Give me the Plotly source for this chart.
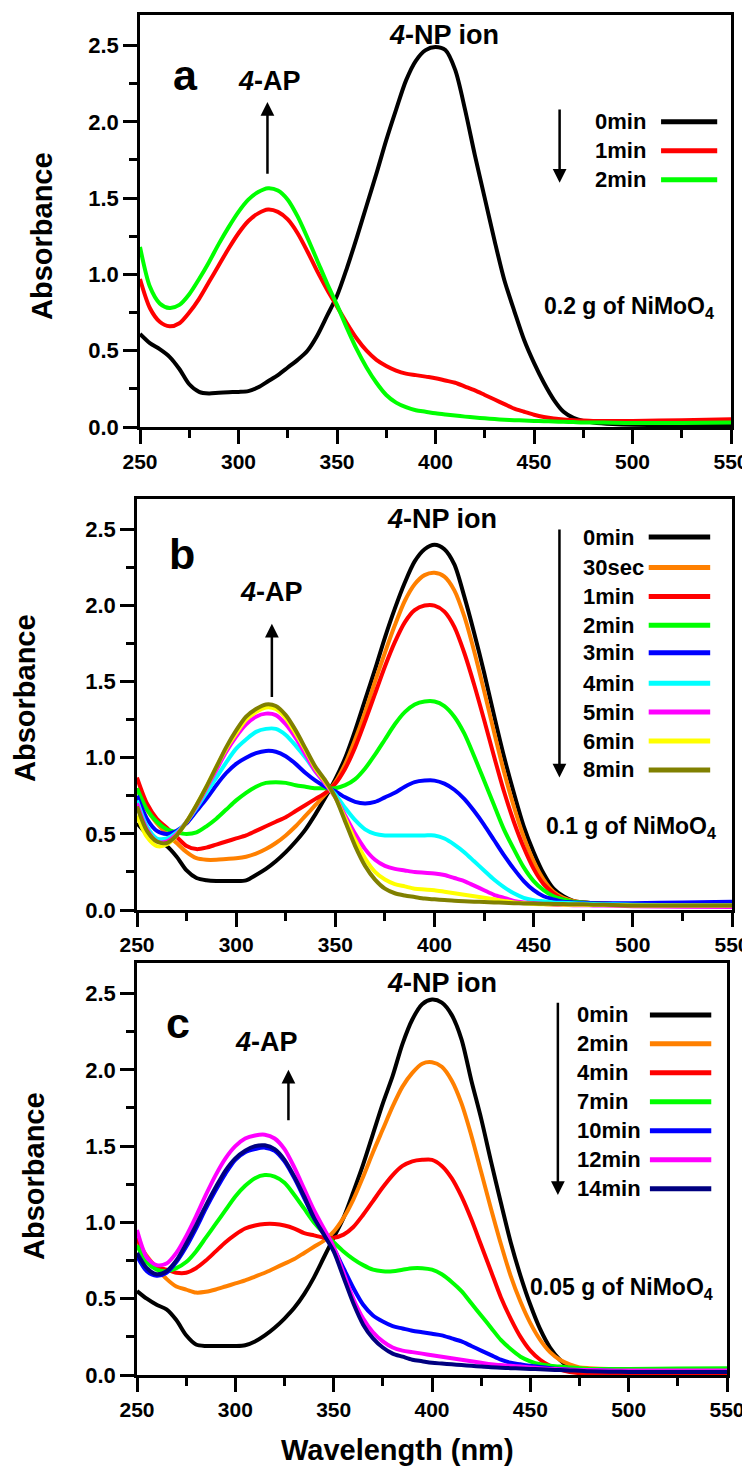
import plotly.graph_objects as go

# ---------------- shared wavelength grid (nm) ----------------
WL = [250, 255, 260, 265, 270, 275, 280, 285, 290, 295, 300, 305, 310, 315, 320, 325, 330, 335, 340, 345,
      350, 355, 360, 365, 370, 375, 380, 385, 390, 395, 400, 405, 410, 415, 420, 425, 430, 435, 440, 445,
      450, 455, 460, 465, 470, 475, 480, 490, 500, 525, 550]

# ---------------- panel a : 0.2 g of NiMoO4 ----------------
a_labels = ["0min", "1min", "2min"]
a_0min = [0.61, 0.55, 0.51, 0.46, 0.38, 0.28, 0.23, 0.22, 0.225, 0.228, 0.23, 0.235, 0.26, 0.30, 0.34, 0.39, 0.44, 0.50, 0.60, 0.73,
          0.86, 1.04, 1.24, 1.45, 1.66, 1.88, 2.08, 2.27, 2.40, 2.47, 2.49, 2.47, 2.34, 2.08, 1.78, 1.50, 1.22, 0.96, 0.76, 0.57,
          0.42, 0.29, 0.18, 0.10, 0.06, 0.04, 0.03, 0.02, 0.015, 0.01, 0.01]
a_1min = [0.97, 0.78, 0.69, 0.66, 0.68, 0.75, 0.84, 0.95, 1.06, 1.17, 1.27, 1.35, 1.40, 1.425, 1.41, 1.36, 1.27, 1.15, 1.02, 0.90,
          0.79, 0.68, 0.58, 0.50, 0.44, 0.40, 0.37, 0.35, 0.34, 0.33, 0.32, 0.305, 0.29, 0.265, 0.24, 0.21, 0.18, 0.15, 0.12, 0.10,
          0.08, 0.065, 0.055, 0.05, 0.045, 0.042, 0.04, 0.04, 0.04, 0.045, 0.05]
a_2min = [1.18, 0.92, 0.81, 0.78, 0.80, 0.87, 0.97, 1.08, 1.20, 1.31, 1.41, 1.49, 1.54, 1.565, 1.55, 1.49, 1.38, 1.24, 1.09, 0.94,
          0.80, 0.65, 0.51, 0.39, 0.29, 0.21, 0.16, 0.13, 0.11, 0.10, 0.09, 0.082, 0.075, 0.068, 0.062, 0.057, 0.052, 0.048, 0.045, 0.042,
          0.04, 0.038, 0.036, 0.034, 0.032, 0.03, 0.03, 0.028, 0.026, 0.027, 0.03]

# ---------------- panel b : 0.1 g of NiMoO4 ----------------
b_labels = ["0min", "30sec", "1min", "2min", "3min", "4min", "5min", "6min", "8min"]
b_0min = [0.57, 0.50, 0.46, 0.42, 0.35, 0.26, 0.21, 0.195, 0.19, 0.19, 0.19, 0.195, 0.23, 0.27, 0.32, 0.38, 0.45, 0.53, 0.63, 0.74,
          0.86, 1.00, 1.18, 1.38, 1.58, 1.79, 1.98, 2.15, 2.29, 2.37, 2.40, 2.37, 2.27, 2.06, 1.82, 1.56, 1.28, 1.01, 0.77, 0.55,
          0.38, 0.24, 0.14, 0.09, 0.06, 0.05, 0.045, 0.04, 0.035, 0.03, 0.03]
b_30sec = [0.80, 0.66, 0.57, 0.50, 0.44, 0.38, 0.34, 0.33, 0.33, 0.335, 0.34, 0.35, 0.37, 0.40, 0.44, 0.49, 0.55, 0.62, 0.69, 0.76,
           0.84, 0.96, 1.12, 1.30, 1.50, 1.69, 1.87, 2.03, 2.14, 2.20, 2.215, 2.19, 2.10, 1.93, 1.70, 1.44, 1.17, 0.91, 0.68, 0.48,
           0.32, 0.20, 0.12, 0.08, 0.06, 0.05, 0.045, 0.04, 0.04, 0.04, 0.04]
b_1min = [0.87, 0.70, 0.60, 0.54, 0.48, 0.42, 0.40, 0.41, 0.43, 0.45, 0.47, 0.49, 0.52, 0.55, 0.58, 0.61, 0.65, 0.69, 0.73, 0.77,
          0.83, 0.93, 1.07, 1.24, 1.42, 1.60, 1.76, 1.89, 1.97, 2.00, 2.00, 1.96, 1.86, 1.69, 1.48, 1.25, 1.01, 0.78, 0.58, 0.41,
          0.27, 0.17, 0.11, 0.07, 0.055, 0.05, 0.045, 0.04, 0.04, 0.045, 0.05]
b_2min = [0.80, 0.66, 0.58, 0.53, 0.51, 0.50, 0.51, 0.55, 0.60, 0.66, 0.72, 0.77, 0.81, 0.835, 0.84, 0.835, 0.82, 0.81, 0.80, 0.80,
          0.80, 0.82, 0.86, 0.93, 1.02, 1.12, 1.22, 1.30, 1.35, 1.37, 1.37, 1.34, 1.27, 1.16, 1.01, 0.85, 0.69, 0.53, 0.40, 0.28,
          0.19, 0.13, 0.09, 0.07, 0.055, 0.05, 0.045, 0.04, 0.04, 0.04, 0.04]
b_3min = [0.75, 0.60, 0.52, 0.50, 0.52, 0.57, 0.65, 0.73, 0.82, 0.90, 0.96, 1.00, 1.03, 1.045, 1.04, 1.01, 0.96, 0.90, 0.85, 0.81,
          0.78, 0.74, 0.71, 0.70, 0.71, 0.74, 0.77, 0.81, 0.84, 0.85, 0.85, 0.83, 0.79, 0.73, 0.65, 0.56, 0.46, 0.36, 0.27, 0.19,
          0.13, 0.09, 0.07, 0.055, 0.05, 0.047, 0.045, 0.045, 0.045, 0.05, 0.055]
b_4min = [0.72, 0.55, 0.47, 0.47, 0.51, 0.58, 0.67, 0.77, 0.87, 0.97, 1.06, 1.12, 1.17, 1.19, 1.19, 1.15, 1.08, 1.00, 0.91, 0.83,
          0.76, 0.67, 0.59, 0.53, 0.50, 0.49, 0.49, 0.49, 0.49, 0.49, 0.49, 0.47, 0.43, 0.38, 0.32, 0.26, 0.20, 0.15, 0.11, 0.08,
          0.065, 0.057, 0.05, 0.047, 0.044, 0.042, 0.04, 0.037, 0.035, 0.032, 0.03]
b_5min = [0.70, 0.53, 0.45, 0.45, 0.50, 0.58, 0.68, 0.80, 0.92, 1.04, 1.14, 1.22, 1.27, 1.29, 1.28, 1.22, 1.13, 1.02, 0.91, 0.83,
          0.74, 0.62, 0.50, 0.40, 0.33, 0.29, 0.27, 0.26, 0.25, 0.245, 0.24, 0.23, 0.21, 0.19, 0.16, 0.13, 0.10, 0.08, 0.06, 0.05,
          0.045, 0.04, 0.035, 0.033, 0.032, 0.031, 0.03, 0.028, 0.025, 0.022, 0.02]
b_6min = [0.62, 0.48, 0.42, 0.43, 0.49, 0.58, 0.69, 0.81, 0.94, 1.06, 1.16, 1.25, 1.30, 1.33, 1.32, 1.26, 1.16, 1.05, 0.93, 0.84,
          0.74, 0.60, 0.46, 0.34, 0.25, 0.20, 0.17, 0.155, 0.14, 0.135, 0.13, 0.12, 0.11, 0.10, 0.09, 0.08, 0.07, 0.06, 0.05, 0.045,
          0.04, 0.038, 0.036, 0.035, 0.035, 0.034, 0.033, 0.032, 0.03, 0.03, 0.03]
b_8min = [0.68, 0.52, 0.45, 0.44, 0.49, 0.58, 0.69, 0.81, 0.94, 1.07, 1.18, 1.27, 1.32, 1.35, 1.34, 1.28, 1.18, 1.06, 0.94, 0.85,
          0.74, 0.58, 0.42, 0.29, 0.20, 0.14, 0.11, 0.095, 0.085, 0.075, 0.07, 0.065, 0.06, 0.057, 0.055, 0.052, 0.05, 0.048, 0.045, 0.043,
          0.042, 0.041, 0.04, 0.039, 0.038, 0.037, 0.035, 0.033, 0.03, 0.03, 0.03]

# ---------------- panel c : 0.05 g of NiMoO4 ----------------
c_labels = ["0min", "2min", "4min", "7min", "10min", "12min", "14min"]
c_0min = [0.55, 0.50, 0.46, 0.43, 0.36, 0.26, 0.20, 0.19, 0.19, 0.19, 0.19, 0.195, 0.22, 0.26, 0.31, 0.37, 0.44, 0.53, 0.64, 0.77,
          0.90, 1.03, 1.20, 1.38, 1.58, 1.78, 1.96, 2.17, 2.33, 2.43, 2.46, 2.44, 2.36, 2.20, 1.93, 1.68, 1.40, 1.13, 0.87, 0.65,
          0.46, 0.30, 0.18, 0.10, 0.05, 0.03, 0.02, 0.015, 0.01, 0.01, 0.01]
c_2min = [0.88, 0.78, 0.70, 0.63, 0.58, 0.56, 0.54, 0.545, 0.56, 0.58, 0.60, 0.62, 0.645, 0.67, 0.70, 0.73, 0.76, 0.80, 0.84, 0.88,
          0.94, 1.03, 1.15, 1.30, 1.46, 1.61, 1.76, 1.89, 1.98, 2.04, 2.05, 2.02, 1.93, 1.78, 1.57, 1.33, 1.09, 0.86, 0.65, 0.48,
          0.34, 0.23, 0.15, 0.10, 0.07, 0.05, 0.045, 0.04, 0.04, 0.04, 0.04]
c_4min = [0.90, 0.77, 0.71, 0.69, 0.67, 0.67, 0.70, 0.75, 0.81, 0.87, 0.92, 0.96, 0.98, 0.99, 0.99, 0.98, 0.96, 0.93, 0.915, 0.90,
          0.90, 0.92, 0.97, 1.05, 1.14, 1.23, 1.31, 1.37, 1.40, 1.41, 1.41, 1.37, 1.29, 1.17, 1.02, 0.85, 0.68, 0.51, 0.37, 0.25,
          0.16, 0.10, 0.06, 0.035, 0.02, 0.012, 0.01, 0.005, 0.005, 0.005, 0.005]
c_7min = [0.85, 0.74, 0.69, 0.68, 0.70, 0.74, 0.81, 0.90, 0.99, 1.08, 1.17, 1.24, 1.29, 1.31, 1.30, 1.26, 1.18, 1.09, 1.00, 0.93,
          0.87, 0.81, 0.76, 0.72, 0.69, 0.68, 0.68, 0.69, 0.70, 0.70, 0.69, 0.66, 0.61, 0.55, 0.47, 0.39, 0.31, 0.23, 0.17, 0.12,
          0.09, 0.07, 0.06, 0.055, 0.05, 0.045, 0.04, 0.04, 0.04, 0.042, 0.045]
c_10min = [0.78, 0.68, 0.65, 0.67, 0.74, 0.84, 0.96, 1.09, 1.21, 1.32, 1.41, 1.46, 1.48, 1.49, 1.47, 1.40, 1.29, 1.16, 1.03, 0.93,
           0.83, 0.70, 0.57, 0.46, 0.39, 0.35, 0.32, 0.305, 0.29, 0.28, 0.27, 0.26, 0.24, 0.22, 0.19, 0.16, 0.13, 0.10, 0.08, 0.07,
           0.06, 0.052, 0.045, 0.04, 0.035, 0.032, 0.03, 0.028, 0.025, 0.025, 0.025]
c_12min = [0.95, 0.77, 0.72, 0.73, 0.80, 0.91, 1.04, 1.18, 1.31, 1.42, 1.50, 1.55, 1.57, 1.575, 1.55, 1.48, 1.36, 1.22, 1.08, 0.96,
           0.84, 0.67, 0.50, 0.37, 0.28, 0.22, 0.18, 0.16, 0.15, 0.14, 0.13, 0.12, 0.11, 0.10, 0.09, 0.08, 0.07, 0.065, 0.06, 0.055,
           0.05, 0.045, 0.04, 0.038, 0.035, 0.033, 0.032, 0.03, 0.03, 0.03, 0.03]
c_14min = [0.80, 0.70, 0.66, 0.68, 0.75, 0.86, 0.98, 1.11, 1.23, 1.34, 1.42, 1.47, 1.50, 1.505, 1.48, 1.41, 1.30, 1.17, 1.03, 0.92,
           0.81, 0.64, 0.47, 0.33, 0.24, 0.18, 0.14, 0.12, 0.10, 0.09, 0.08, 0.075, 0.07, 0.065, 0.06, 0.055, 0.05, 0.048, 0.045, 0.042,
           0.04, 0.037, 0.034, 0.032, 0.03, 0.028, 0.025, 0.022, 0.02, 0.02, 0.02]

# colours
a_colors = ["#000000", "#FF0000", "#00FF00"]
b_colors = ["#000000", "#FF8000", "#FF0000", "#00FF00", "#0000FF", "#00FFFF", "#FF00FF", "#FFFF00", "#808000"]
c_colors = ["#000000", "#FF8000", "#FF0000", "#00FF00", "#0000FF", "#FF00FF", "#000080"]

# ticks
x_ticks = [250, 300, 350, 400, 450, 500, 550]
y_ticks = [0.0, 0.5, 1.0, 1.5, 2.0, 2.5]
y_tick_text = ["0.0", "0.5", "1.0", "1.5", "2.0", "2.5"]

FONT = "Liberation Sans, Arial, sans-serif"
# the page body adds an 8 px margin, so the figure is 8 px smaller than the window on each used side
OFF = 8
W, H = 750 - OFF, 1470 - OFF


def px_x(p):
    return (p - OFF) / W


def px_y(p):
    return 1 - (p - OFF) / H


panels = [
    dict(suffix="", idx=1, series=[a_0min, a_1min, a_2min], labels=a_labels, colors=a_colors,
         xpx=(140, 731), ypx=(15, 427), letter="a", letter_xy=(273, 2.31),
         ap_xy=(315.7, 2.27), ap_arrow=(314.7, 1.65, 2.13), np_xy=(404.5, 2.57),
         down=(463, 2.09, 1.60), leg_x=508, leg_anchor="right", leg_line=(514.5, 543), leg_y=[2.0, 1.81, 1.62],
         amount="0.2 g of NiMoO<sub>4</sub>", amount_xy=(454, 0.78)),
    dict(suffix="2", idx=2, series=[b_0min, b_30sec, b_1min, b_2min, b_3min, b_4min, b_5min, b_6min, b_8min],
         labels=b_labels, colors=b_colors,
         xpx=(137, 732), ypx=(499, 910), letter="b", letter_xy=(272.5, 2.34),
         ap_xy=(318, 2.09), ap_arrow=(318, 1.39, 1.88), np_xy=(403.6, 2.57),
         down=(463, 2.51, 0.87), leg_x=473.8, leg_anchor="left", leg_line=(508, 539),
         leg_y=[2.45, 2.25, 2.06, 1.87, 1.69, 1.49, 1.30, 1.11, 0.92],
         amount="0.1 g of NiMoO<sub>4</sub>", amount_xy=(455, 0.54)),
    dict(suffix="3", idx=3, series=[c_0min, c_2min, c_4min, c_7min, c_10min, c_12min, c_14min],
         labels=c_labels, colors=c_colors,
         xpx=(137, 727), ypx=(963, 1375), letter="c", letter_xy=(271, 2.31),
         ap_xy=(316, 2.18), ap_arrow=(327, 1.66, 2.0), np_xy=(405, 2.57),
         down=(464, 2.45, 1.18), leg_x=472.7, leg_anchor="left", leg_line=(510.8, 542),
         leg_y=[2.36, 2.17, 1.98, 1.79, 1.60, 1.41, 1.22],
         amount="0.05 g of NiMoO<sub>4</sub>", amount_xy=(448.8, 0.57)),
]

fig = go.Figure()
annotations = []
shapes = []
layout = {}

for p in panels:
    xa = "x" + p["suffix"]
    ya = "y" + p["suffix"]
    for vals, lab, col in zip(p["series"], p["labels"], p["colors"]):
        fig.add_trace(go.Scatter(x=WL, y=vals, mode="lines", name=lab, xaxis=xa, yaxis=ya,
                                 line=dict(color=col, width=4, shape="spline", smoothing=0.8),
                                 showlegend=False, hoverinfo="skip"))
    x0, x1 = p["xpx"]
    yt, yb = p["ypx"]
    xdom = [px_x(x0), px_x(x1)]
    ydom = [px_y(yb), px_y(yt)]
    layout["xaxis" + p["suffix"]] = dict(
        domain=xdom, anchor=ya, range=[250, 550], tickvals=x_ticks, ticktext=[str(v) for v in x_ticks],
        automargin=False, ticklabeloverflow="allow",
        showline=True, linecolor="black", linewidth=2.5, mirror=True, showgrid=False, zeroline=False,
        ticks="outside", ticklen=14, tickwidth=2.5, tickcolor="black",
        minor=dict(ticks="outside", ticklen=8, tickwidth=2.5, tickcolor="black", dtick=25, tick0=250, showgrid=False),
        tickfont=dict(family=FONT, size=21, color="black", weight="bold"))
    layout["yaxis" + p["suffix"]] = dict(
        domain=ydom, anchor=xa, range=[0, 2.7], tickvals=y_ticks, ticktext=y_tick_text,
        automargin=False, ticklabeloverflow="allow",
        showline=True, linecolor="black", linewidth=2.5, mirror=True, showgrid=False, zeroline=False,
        ticks="outside", ticklen=14, tickwidth=2.5, tickcolor="black",
        minor=dict(ticks="outside", ticklen=8, tickwidth=2.5, tickcolor="black", dtick=0.25, tick0=0, showgrid=False),
        tickfont=dict(family=FONT, size=22, color="black", weight="bold"))
    # right-side small ticks
    ridx = str(p["idx"] + 3)
    layout["yaxis" + ridx] = dict(
        domain=ydom, anchor=xa, overlaying=ya, side="right", range=[0, 2.7], dtick=0.25, tick0=0,
        automargin=False,
        showticklabels=False, ticks="outside", ticklen=4, tickwidth=1.5, tickcolor="black",
        showline=False, showgrid=False, zeroline=False)

    tf = dict(family=FONT, color="black")
    annotations.append(dict(x=p["letter_xy"][0], y=p["letter_xy"][1], xref=xa, yref=ya, text="<b>%s</b>" % p["letter"],
                            showarrow=False, font=dict(tf, size=43)))
    annotations.append(dict(x=p["ap_xy"][0], y=p["ap_xy"][1], xref=xa, yref=ya, text="<b><i>4</i>-AP</b>",
                            showarrow=False, font=dict(tf, size=27)))
    annotations.append(dict(x=p["np_xy"][0], y=p["np_xy"][1], xref=xa, yref=ya, text="<b><i>4</i>-NP ion</b>",
                            showarrow=False, font=dict(tf, size=27)))
    ax_, ay0, ay1 = p["ap_arrow"]
    annotations.append(dict(x=ax_, y=ay1, ax=ax_, ay=ay0, xref=xa, yref=ya, axref=xa, ayref=ya, text="",
                            showarrow=True, arrowhead=2, arrowsize=1.1, arrowwidth=2.5, arrowcolor="black"))
    dx, dy0, dy1 = p["down"]
    annotations.append(dict(x=dx, y=dy1, ax=dx, ay=dy0, xref=xa, yref=ya, axref=xa, ayref=ya, text="",
                            showarrow=True, arrowhead=2, arrowsize=1.1, arrowwidth=2.5, arrowcolor="black"))
    for lab, col, ly in zip(p["labels"], p["colors"], p["leg_y"]):
        annotations.append(dict(x=p["leg_x"], y=ly, xref=xa, yref=ya, text="<b>%s</b>" % lab, showarrow=False,
                                xanchor=p["leg_anchor"], yanchor="middle", font=dict(tf, size=22)))
        shapes.append(dict(type="line", xref=xa, yref=ya, x0=p["leg_line"][0], x1=p["leg_line"][1], y0=ly, y1=ly,
                           line=dict(color=col, width=5)))
    annotations.append(dict(x=p["amount_xy"][0], y=p["amount_xy"][1], xref=xa, yref=ya, text="<b>%s</b>" % p["amount"],
                            showarrow=False, xanchor="left", yanchor="middle", font=dict(tf, size=23)))

# axis titles
for yc, xc in [(236, 42), (698, 25), (1176, 34)]:
    annotations.append(dict(x=px_x(xc), y=px_y(yc), xref="paper", yref="paper", text="<b>Absorbance</b>",
                            textangle=-90, showarrow=False, xanchor="center", yanchor="middle",
                            font=dict(family=FONT, size=29, color="black")))
annotations.append(dict(x=px_x(397), y=px_y(1450), xref="paper", yref="paper", text="<b>Wavelength (nm)</b>",
                        showarrow=False, xanchor="center", yanchor="middle",
                        font=dict(family=FONT, size=29, color="black")))

fig.update_layout(width=W, height=H, margin=dict(l=0, r=0, t=0, b=0, autoexpand=False), paper_bgcolor="white",
                  plot_bgcolor="white", showlegend=False, annotations=annotations, shapes=shapes, **layout)

fig.write_html("out.html")
